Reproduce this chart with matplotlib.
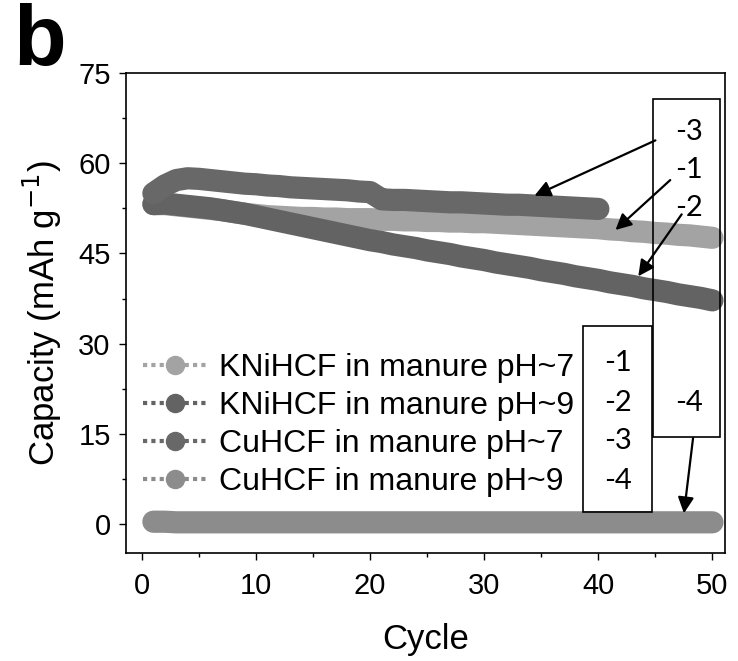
import matplotlib
matplotlib.use("Agg")
import matplotlib.pyplot as plt
from matplotlib.lines import Line2D
from matplotlib.patches import Rectangle

plt.rcParams['font.family'] = ['Liberation Sans', 'DejaVu Sans']

# ---- data ----
cycles = list(range(1, 51))
cycles_cu7 = list(range(1, 41))

kni_ph7 = [53.2, 53.2, 53.0, 52.8, 52.6, 52.4, 52.2, 51.9, 51.6, 51.4,
           51.2, 51.1, 51.0, 50.9, 50.9, 50.8, 50.8, 50.7, 50.7, 50.7,
           50.6, 50.6, 50.5, 50.5, 50.4, 50.4, 50.3, 50.3, 50.2, 50.2,
           50.1, 50.0, 49.9, 49.8, 49.7, 49.6, 49.5, 49.4, 49.3, 49.2,
           49.0, 48.9, 48.7, 48.6, 48.4, 48.3, 48.1, 48.0, 47.8, 47.6]

kni_ph9 = [53.2, 53.3, 53.1, 52.9, 52.7, 52.5, 52.2, 51.9, 51.6, 51.2,
           50.8, 50.4, 50.0, 49.6, 49.2, 48.8, 48.4, 48.0, 47.6, 47.2,
           46.9, 46.5, 46.2, 45.9, 45.5, 45.2, 44.9, 44.5, 44.2, 43.9,
           43.5, 43.2, 42.9, 42.6, 42.2, 41.9, 41.6, 41.2, 40.9, 40.6,
           40.2, 39.9, 39.6, 39.2, 38.9, 38.6, 38.2, 37.9, 37.6, 37.2]

cu_ph7 = [55.0, 56.3, 57.2, 57.5, 57.4, 57.2, 57.0, 56.8, 56.6, 56.5,
          56.3, 56.2, 56.0, 55.9, 55.8, 55.7, 55.6, 55.5, 55.3, 55.2,
          54.0, 53.9, 53.9, 53.8, 53.7, 53.6, 53.5, 53.5, 53.4, 53.3,
          53.2, 53.1, 53.1, 53.0, 52.9, 52.8, 52.7, 52.6, 52.5, 52.4]

cu_ph9 = [0.4, 0.4, 0.3, 0.3, 0.3, 0.3, 0.3, 0.3, 0.3, 0.3,
          0.3, 0.3, 0.3, 0.3, 0.3, 0.3, 0.3, 0.3, 0.3, 0.3,
          0.3, 0.3, 0.3, 0.3, 0.3, 0.3, 0.3, 0.3, 0.3, 0.3,
          0.3, 0.3, 0.3, 0.3, 0.3, 0.3, 0.3, 0.3, 0.3, 0.3,
          0.3, 0.3, 0.3, 0.3, 0.3, 0.3, 0.3, 0.3, 0.3, 0.3]

labels = ["KNiHCF in manure pH~7", "KNiHCF in manure pH~9",
          "CuHCF in manure pH~7", "CuHCF in manure pH~9"]
tags = ["-1", "-2", "-3", "-4"]
colors = ["#a3a3a3", "#636363", "#686868", "#8c8c8c"]

# ---- figure ----
fig = plt.figure(figsize=(7.38, 6.61), dpi=100)
ax = fig.add_axes([126 / 738, 1 - 553 / 661, 599 / 738, 480 / 661])

series = [(cycles, kni_ph7), (cycles, kni_ph9), (cycles_cu7, cu_ph7), (cycles, cu_ph9)]
for (x, y), c in zip(series, colors):
    ax.plot(x, y, color=c, lw=16, solid_capstyle="round", solid_joinstyle="round")

ax.set_xlim(-1.4, 51.1)
ax.set_ylim(-4.8, 75)
ax.set_xticks([0, 10, 20, 30, 40, 50])
ax.set_xticks([5, 15, 25, 35, 45], minor=True)
ax.set_yticks([0, 15, 30, 45, 60, 75])
ax.set_yticks([7.5, 22.5, 37.5, 52.5, 67.5], minor=True)
ax.tick_params(which="major", direction="out", length=5, width=1,
               labelsize=21, pad=6)
ax.tick_params(axis="x", which="major", pad=9)
ax.tick_params(which="minor", direction="out", length=3, width=1)
for s in ax.spines.values():
    s.set_linewidth(1.2)

ax.set_xlabel("Cycle", fontsize=25, labelpad=16)
ax.set_ylabel("Capacity (mAh g$^{-1}$)", fontsize=25, labelpad=10)

handles = [Line2D([], [], color=c, lw=3, ls=(0, (1, 1)), marker="o",
                  ms=13, mfc=c, mec=c) for c in colors]
ax.legend(handles, labels, loc="upper left", bbox_to_anchor=(0.028, 0.417),
          frameon=False, fontsize=23, handlelength=2.0, handletextpad=0.4,
          labelspacing=0.25, borderpad=0, borderaxespad=0)

# label boxes
ax.add_patch(Rectangle((0.763, 0.085), 0.115, 0.388, transform=ax.transAxes,
                       fill=False, ec="black", lw=1.2, zorder=6))
ax.add_patch(Rectangle((0.880, 0.242), 0.112, 0.704, transform=ax.transAxes,
                       fill=False, ec="black", lw=1.2, zorder=6))

box_font = dict(fontsize=21, family=["Lato", "DejaVu Sans"], ha="center", va="center")
for t, yy in zip(tags, [0.396, 0.3125, 0.233, 0.15]):
    ax.text(0.821, yy, t, transform=ax.transAxes, **box_font)
for t, yy in zip(["-3", "-1", "-2", "-4"], [0.877, 0.798, 0.719, 0.3125]):
    ax.text(0.94, yy, t, transform=ax.transAxes, **box_font)

arrow = dict(arrowstyle="-|>", color="black", lw=1.6, mutation_scale=24,
             shrinkA=0, shrinkB=0)
ax.annotate("", xy=(34.4, 54.6), xytext=(45.0, 63.8), arrowprops=arrow)
ax.annotate("", xy=(41.5, 48.9), xytext=(46.3, 57.2), arrowprops=arrow)
ax.annotate("", xy=(43.5, 41.2), xytext=(47.3, 51.5), arrowprops=arrow)
ax.annotate("", xy=(47.5, 1.8), xytext=(48.3, 14.3), arrowprops=arrow)

fig.text(0.018, 0.995, "b", fontsize=62, fontweight="bold", va="top", ha="left")

fig.savefig("out.png", dpi=100)
